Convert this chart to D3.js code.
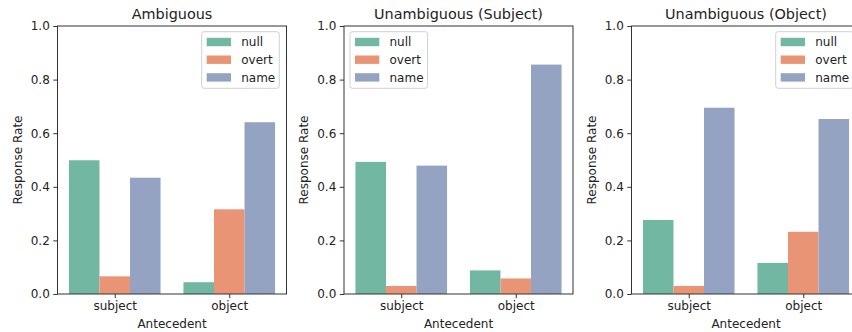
<!DOCTYPE html>
<html>
<head>
<meta charset="utf-8">
<script src="https://cdn.jsdelivr.net/npm/d3@7"></script>
<style>
  html, body { margin: 0; padding: 0; background: #fff; }
  svg { display: block; }
  text { font-family: "DejaVu Sans", sans-serif; fill: #222; }
</style>
</head>
<body>
<svg id="chart" width="852" height="332"></svg>
<script>
const panels = ["Ambiguous", "Unambiguous (Subject)", "Unambiguous (Object)"];
const categories = ["subject", "object"];
const hues = ["null", "overt", "name"];
// values[panel][hue] = [subject, object]
const nullValues  = [[0.499, 0.044], [0.493, 0.088], [0.276, 0.116]];
const overtValues = [[0.066, 0.316], [0.030, 0.058], [0.030, 0.232]];
const nameValues  = [[0.434, 0.641], [0.479, 0.856], [0.695, 0.653]];
const yTicks = [0, 0.2, 0.4, 0.6, 0.8, 1.0];
const legendPos = ["right", "left", "right"];
const colors = ["#71b7a1", "#e99575", "#95a3c3"];

(function () {
const svg = d3.select("#chart");
const panelLefts = [57.5, 344, 631.5];
const panelW = 229;
const plotTop = 26, plotBottom = 294;

const y = d3.scaleLinear().domain([0, 1]).range([plotBottom, plotTop]);
const color = d3.scaleOrdinal().domain(hues).range(colors);

panels.forEach((title, p) => {
  const left = panelLefts[p];
  const g = svg.append("g");
  const x = d3.scaleBand().domain(categories).range([left, left + panelW])
    .paddingInner(0.2).paddingOuter(0.1);
  const xh = d3.scaleBand().domain(hues).range([0, x.bandwidth()]).padding(0);
  const seriesVals = { null: nullValues[p], overt: overtValues[p], name: nameValues[p] };

  hues.forEach(h => {
    g.selectAll(null).data(categories).enter().append("rect")
      .attr("x", (c) => x(c) + xh(h))
      .attr("width", xh.bandwidth())
      .attr("y", (c, i) => y(seriesVals[h][i]))
      .attr("height", (c, i) => y(0) - y(seriesVals[h][i]))
      .attr("fill", color(h));
  });

  const xCenter = d3.scalePoint().domain(categories)
    .range([x("subject") + x.bandwidth() / 2, x("object") + x.bandwidth() / 2]);
  const xAxis = g.append("g").attr("transform", `translate(0,${plotBottom})`)
    .call(d3.axisBottom(xCenter).tickSize(4.2).tickPadding(3.5));
  xAxis.select(".domain").remove();
  const yAxis = g.append("g").attr("transform", `translate(${left},0)`)
    .call(d3.axisLeft(y).tickValues(yTicks).tickFormat(d3.format(".1f")).tickSize(4.2).tickPadding(3.5));
  yAxis.select(".domain").remove();
  [xAxis, yAxis].forEach(a => {
    a.selectAll("text").style("font-size", "12px").style("font-family", "DejaVu Sans, sans-serif").attr("fill", "#222");
    a.selectAll("line").attr("stroke", "#333").attr("stroke-width", 1);
  });

  g.append("rect").attr("x", left).attr("y", plotTop).attr("width", panelW).attr("height", plotBottom - plotTop)
    .attr("fill", "none").attr("stroke", "#333").attr("stroke-width", 1);

  g.append("text").attr("x", left + panelW / 2).attr("y", 19).attr("text-anchor", "middle")
    .style("font-size", "14.4px").text(title);
  g.append("text").attr("x", left + panelW / 2).attr("y", 327.5).attr("text-anchor", "middle")
    .style("font-size", "12px").text("Antecedent");
  g.append("text").attr("transform", `translate(${left - 36},${(plotTop + plotBottom) / 2}) rotate(-90)`)
    .attr("text-anchor", "middle").style("font-size", "12px").text("Response Rate");

  const lw = 77.6, lh = 56.6;
  const lx = legendPos[p] === "right" ? left + panelW - 7.2 - lw : left + 6;
  const ly = 31.7;
  const leg = g.append("g").attr("transform", `translate(${lx},${ly})`);
  leg.append("rect").attr("width", lw).attr("height", lh).attr("rx", 2.5)
    .attr("fill", "#fff").attr("fill-opacity", 0.8).attr("stroke", "#d0d0d0").attr("stroke-width", 1);
  hues.forEach((h, i) => {
    const cy = 10.3 + i * 17.7;
    leg.append("rect").attr("x", 5).attr("y", cy - 4.2).attr("width", 24.3).attr("height", 8.4).attr("fill", color(h));
    leg.append("text").attr("x", 39.5).attr("y", cy + 4.3).style("font-size", "12px").text(h);
  });
});
})();
</script>
</body>
</html>
